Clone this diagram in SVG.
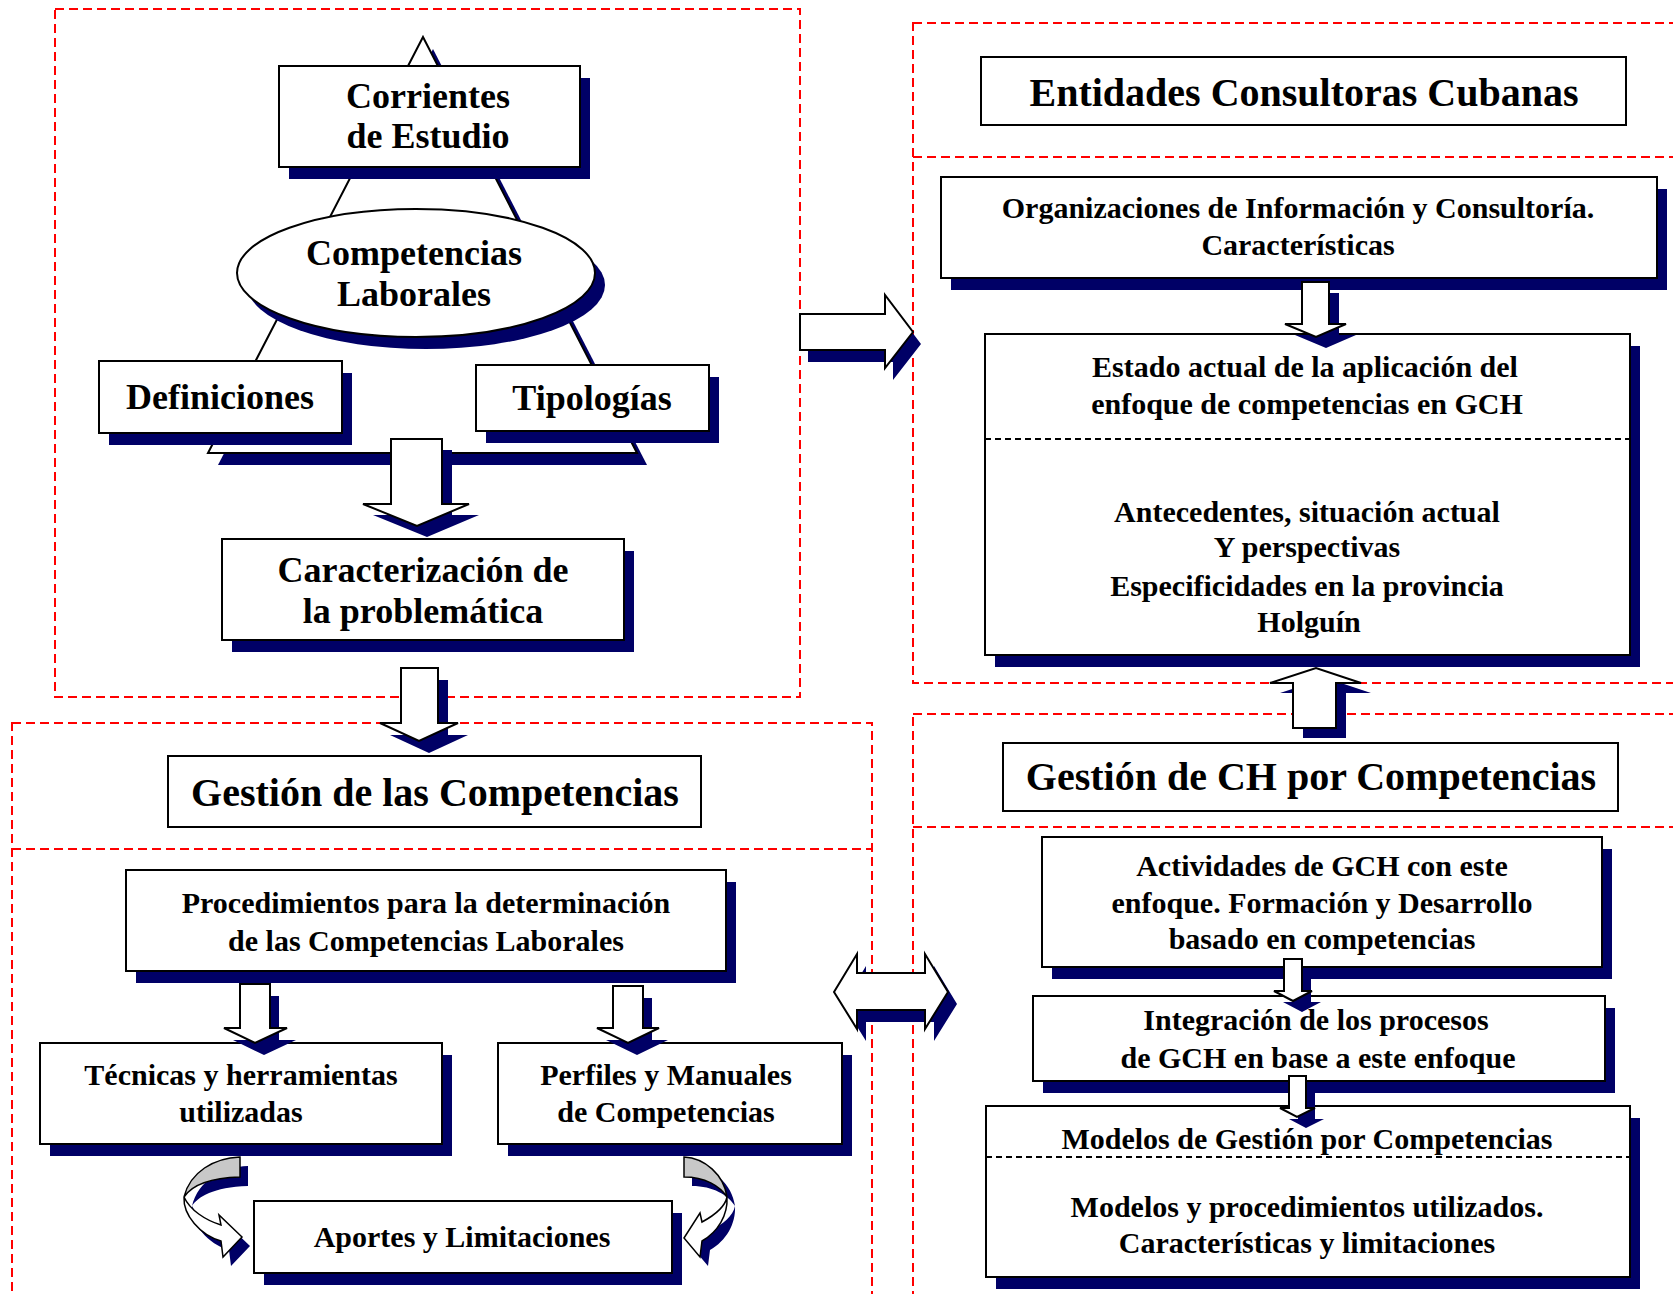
<svg xmlns="http://www.w3.org/2000/svg" width="1673" height="1294" viewBox="0 0 1673 1294">
  <defs>
    <style>
      .frame { fill: none; stroke: #ff0000; stroke-width: 2; stroke-dasharray: 9 5; }
      .sep { stroke: #ff0000; stroke-width: 2; stroke-dasharray: 9 5; fill: none; }
      .box { fill: #ffffff; stroke: #000000; stroke-width: 2; }
      .shadow { fill: #000066; }
      .divider { stroke: #000000; stroke-width: 2; stroke-dasharray: 6 4; }
      .arrow { fill: #ffffff; stroke: #000000; stroke-width: 2; stroke-linejoin: miter; }
      .curl-back { fill: #c8c8c8; stroke: #000000; stroke-width: 1.5; }
      .curl { fill: #ffffff; stroke: #000000; stroke-width: 1.5; }
      .t { font-family: "Liberation Serif", "Times New Roman", serif; font-weight: bold; fill: #000000; text-anchor: middle; }
      .s36 { font-size: 36px; }
      .s40 { font-size: 40px; }
      .s30 { font-size: 30px; }
    </style>
  </defs>

  <rect width="1673" height="1294" fill="#ffffff"/>

  <!-- dashed section frames -->
  <g id="frames">
    <rect class="frame" x="55" y="9" width="745" height="688"/>
    <rect class="frame" x="12" y="723" width="860" height="600"/>
    <line class="sep" x1="12" y1="849" x2="872" y2="849"/>
    <rect class="frame" x="913" y="23" width="800" height="660"/>
    <line class="sep" x1="913" y1="157" x2="1680" y2="157"/>
    <rect class="frame" x="913" y="714" width="800" height="620"/>
    <line class="sep" x1="913" y1="827" x2="1680" y2="827"/>
  </g>

  <!-- triangle behind the central concept -->
  <g id="triangle">
    <polygon class="shadow" points="433,49 647,465 218,465"/>
    <polygon class="box" points="423,37 637,453 208,453"/>
  </g>

  <g id="corrientes">
    <rect class="shadow" x="289" y="78" width="301" height="101"/>
    <rect class="box" x="279" y="66" width="301" height="101"/>
    <text class="t s36" x="428" y="108">Corrientes</text>
    <text class="t s36" x="428" y="148">de Estudio</text>
  </g>

  <g id="competencias">
    <ellipse class="shadow" cx="426" cy="285" rx="179" ry="64"/>
    <ellipse class="box" cx="416" cy="273" rx="179" ry="64"/>
    <text class="t s36" x="414" y="265">Competencias</text>
    <text class="t s36" x="414" y="306">Laborales</text>
  </g>

  <g id="definiciones">
    <rect class="shadow" x="109" y="373" width="243" height="72"/>
    <rect class="box" x="99" y="361" width="243" height="72"/>
    <text class="t s36" x="220" y="409">Definiciones</text>
  </g>

  <g id="tipologias">
    <rect class="shadow" x="486" y="377" width="233" height="66"/>
    <rect class="box" x="476" y="365" width="233" height="66"/>
    <text class="t s36" x="592" y="410">Tipologías</text>
  </g>

  <g id="caracterizacion">
    <rect class="shadow" x="232" y="551" width="402" height="101"/>
    <rect class="box" x="222" y="539" width="402" height="101"/>
    <text class="t s36" x="423" y="582">Caracterización de</text>
    <text class="t s36" x="423" y="623">la problemática</text>
  </g>

  <g id="gestion-competencias">
    <rect class="box" x="168" y="756" width="533" height="71"/>
    <text class="t s40" x="435" y="806">Gestión de las Competencias</text>
  </g>

  <g id="procedimientos">
    <rect class="shadow" x="136" y="882" width="600" height="101"/>
    <rect class="box" x="126" y="870" width="600" height="101"/>
    <text class="t s30" x="426" y="913">Procedimientos para la determinación</text>
    <text class="t s30" x="426" y="951">de las Competencias Laborales</text>
  </g>

  <g id="tecnicas">
    <rect class="shadow" x="50" y="1055" width="402" height="101"/>
    <rect class="box" x="40" y="1043" width="402" height="101"/>
    <text class="t s30" x="241" y="1085">Técnicas y herramientas</text>
    <text class="t s30" x="241" y="1122">utilizadas</text>
  </g>

  <g id="perfiles">
    <rect class="shadow" x="508" y="1055" width="344" height="101"/>
    <rect class="box" x="498" y="1043" width="344" height="101"/>
    <text class="t s30" x="666" y="1085">Perfiles y Manuales</text>
    <text class="t s30" x="666" y="1122">de Competencias</text>
  </g>

  <g id="aportes">
    <rect class="shadow" x="264" y="1213" width="418" height="72"/>
    <rect class="box" x="254" y="1201" width="418" height="72"/>
    <text class="t s30" x="462" y="1247">Aportes y Limitaciones</text>
  </g>

  <g id="entidades">
    <rect class="box" x="981" y="57" width="645" height="68"/>
    <text class="t s40" x="1304" y="106">Entidades Consultoras Cubanas</text>
  </g>

  <g id="organizaciones">
    <rect class="shadow" x="951" y="189" width="716" height="101"/>
    <rect class="box" x="941" y="177" width="716" height="101"/>
    <text class="t s30" x="1298" y="218">Organizaciones de Información y Consultoría.</text>
    <text class="t s30" x="1298" y="255">Características</text>
  </g>

  <g id="estado">
    <rect class="shadow" x="995" y="346" width="645" height="321"/>
    <rect class="box" x="985" y="334" width="645" height="321"/>
    <line class="divider" x1="985" y1="439" x2="1630" y2="439"/>
    <text class="t s30" x="1305" y="377">Estado actual de la aplicación  del</text>
    <text class="t s30" x="1307" y="414">enfoque de competencias  en GCH</text>
    <text class="t s30" x="1307" y="522">Antecedentes, situación actual</text>
    <text class="t s30" x="1307" y="557">Y perspectivas</text>
    <text class="t s30" x="1307" y="596">Especificidades en la provincia</text>
    <text class="t s30" x="1309" y="632">Holguín</text>
  </g>

  <g id="gestion-ch">
    <rect class="box" x="1003" y="743" width="615" height="68"/>
    <text class="t s40" x="1311" y="790">Gestión de CH por Competencias</text>
  </g>

  <g id="actividades">
    <rect class="shadow" x="1052" y="849" width="560" height="130"/>
    <rect class="box" x="1042" y="837" width="560" height="130"/>
    <text class="t s30" x="1322" y="876">Actividades de GCH con este</text>
    <text class="t s30" x="1322" y="913">enfoque. Formación y Desarrollo</text>
    <text class="t s30" x="1322" y="949">basado en competencias</text>
  </g>

  <g id="integracion">
    <rect class="shadow" x="1043" y="1008" width="572" height="85"/>
    <rect class="box" x="1033" y="996" width="572" height="85"/>
    <text class="t s30" x="1316" y="1030">Integración de los procesos</text>
    <text class="t s30" x="1318" y="1068">de GCH en base a este enfoque</text>
  </g>

  <g id="modelos">
    <rect class="shadow" x="996" y="1118" width="644" height="171"/>
    <rect class="box" x="986" y="1106" width="644" height="171"/>
    <line class="divider" x1="986" y1="1157" x2="1630" y2="1157"/>
    <text class="t s30" x="1307" y="1149">Modelos de Gestión por Competencias</text>
    <text class="t s30" x="1307" y="1217">Modelos y procedimientos  utilizados.</text>
    <text class="t s30" x="1307" y="1253">Características y limitaciones</text>
  </g>

  <!-- block arrows and curved arrows -->
  <g id="connectors">
    <!-- Definiciones/Tipologías to Caracterización -->
    <path class="shadow" transform="translate(10,11)" d="M391,439 H442 V504 H469 L417,526 L363,504 H391 Z"/>
    <path class="arrow" d="M391,439 H442 V504 H469 L417,526 L363,504 H391 Z"/>

    <!-- Caracterización to Gestión de las Competencias -->
    <path class="shadow" transform="translate(10,12)" d="M401,668 H438 V723 H458 L419,741 L380,723 H401 Z"/>
    <path class="arrow" d="M401,668 H438 V723 H458 L419,741 L380,723 H401 Z"/>

    <!-- left column to Entidades -->
    <path class="shadow" transform="translate(8,12)" d="M800,314 H885 V295 L913,332 L885,368 V350 H800 Z"/>
    <path class="arrow" d="M800,314 H885 V295 L913,332 L885,368 V350 H800 Z"/>

    <!-- Organizaciones to Estado -->
    <path class="shadow" transform="translate(10,11)" d="M1302,282 H1329 V324 H1346 L1316,337 L1285,324 H1302 Z"/>
    <path class="arrow" d="M1302,282 H1329 V324 H1346 L1316,337 L1285,324 H1302 Z"/>

    <!-- Gestión de CH up to Estado -->
    <path class="shadow" transform="translate(10,10)" d="M1293,728 V683 H1270 L1316,668 L1361,683 H1336 V728 Z"/>
    <path class="arrow" d="M1293,728 V683 H1270 L1316,668 L1361,683 H1336 V728 Z"/>

    <!-- two-way arrow between the lower sections -->
    <path class="shadow" transform="translate(9,12)" d="M834,992 L857,954 V973 H925 V954 L948,992 L925,1029 V1010 H857 V1029 Z"/>
    <path class="arrow" d="M834,992 L857,954 V973 H925 V954 L948,992 L925,1029 V1010 H857 V1029 Z"/>

    <!-- Procedimientos to Técnicas -->
    <path class="shadow" transform="translate(9,12)" d="M240,984 H270 V1028 H287 L255,1043 L224,1028 H240 Z"/>
    <path class="arrow" d="M240,984 H270 V1028 H287 L255,1043 L224,1028 H240 Z"/>

    <!-- Procedimientos to Perfiles -->
    <path class="shadow" transform="translate(9,12)" d="M613,986 H643 V1028 H659 L628,1043 L597,1028 H613 Z"/>
    <path class="arrow" d="M613,986 H643 V1028 H659 L628,1043 L597,1028 H613 Z"/>

    <!-- Actividades to Integración -->
    <path class="shadow" transform="translate(9,11)" d="M1284,959 H1302 V991 H1312 L1293,1001 L1274,991 H1284 Z"/>
    <path class="arrow" d="M1284,959 H1302 V991 H1312 L1293,1001 L1274,991 H1284 Z"/>

    <!-- Integración to Modelos -->
    <path class="shadow" transform="translate(9,11)" d="M1289,1076 H1306 V1108 H1315 L1297,1117 L1280,1108 H1289 Z"/>
    <path class="arrow" d="M1289,1076 H1306 V1108 H1315 L1297,1117 L1280,1108 H1289 Z"/>

    <!-- curved arrow: Técnicas to Aportes -->
    <g id="curl-left">
      <path class="shadow" transform="translate(8,9)" d="M240,1157 C214,1158 190,1172 184,1197 C183,1215 200,1235 221,1241 L223,1257 L242,1237 L219,1215 L221,1225 C205,1220 190,1210 184,1197 C190,1188 205,1178 240,1177 Z"/>
      <path class="curl-back" d="M240,1157 C214,1158 190,1172 184,1197 C190,1188 205,1178 240,1177 Z"/>
      <path class="curl" d="M184,1197 C183,1215 200,1235 221,1241 L223,1257 L242,1237 L219,1215 L221,1225 C205,1220 190,1210 184,1197 Z"/>
    </g>

    <!-- curved arrow: Perfiles to Aportes -->
    <g id="curl-right">
      <path class="shadow" transform="translate(8,9)" d="M684,1157 C705,1158 724,1175 727,1197 C728,1215 718,1232 702,1241 L700,1257 L684,1238 L700,1213 L702,1222 C715,1215 725,1207 727,1197 C720,1186 705,1177 684,1177 Z"/>
      <path class="curl-back" d="M684,1157 C705,1158 724,1175 727,1197 C720,1186 705,1177 684,1177 Z"/>
      <path class="curl" d="M727,1197 C728,1215 718,1232 702,1241 L700,1257 L684,1238 L700,1213 L702,1222 C715,1215 725,1207 727,1197 Z"/>
    </g>
  </g>
</svg>
